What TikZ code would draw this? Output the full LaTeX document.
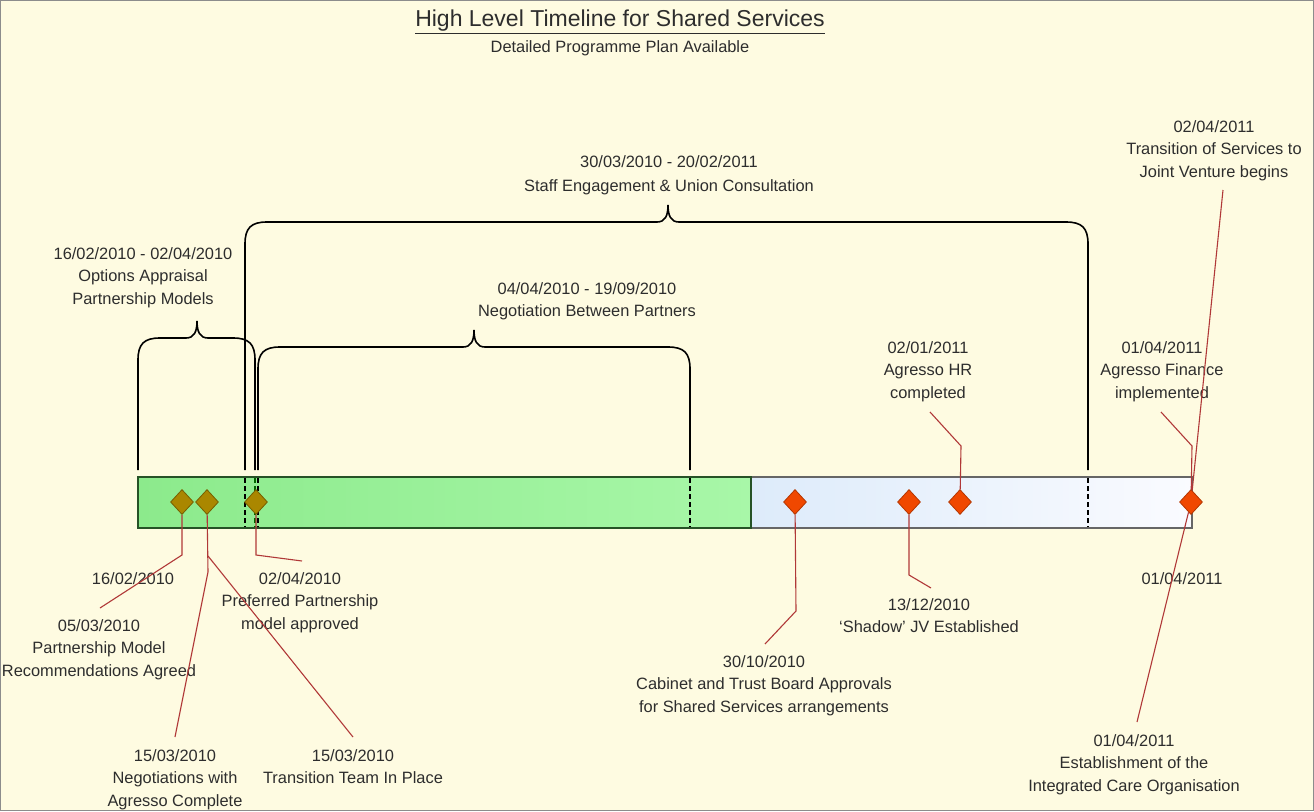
\documentclass[tikz,border=0pt]{standalone}
\usepackage{fontspec}
\setmainfont{Liberation Sans}
\usetikzlibrary{shapes.geometric}
\definecolor{paper}{RGB}{254,251,225}
\definecolor{ink}{RGB}{45,45,45}
\definecolor{leader}{RGB}{176,56,56}
\definecolor{olivemark}{RGB}{170,135,0}
\definecolor{redmark}{RGB}{240,72,0}
\definecolor{greenA}{RGB}{140,234,140}
\definecolor{greenB}{RGB}{168,247,168}
\definecolor{blueA}{RGB}{221,235,250}
\definecolor{blueB}{RGB}{250,251,255}
% curly bracket: left x, right x, tip x, top y, bottom y
\newcommand{\spanbrace}[5]{%
  \draw[spanline] (#1,#5) -- (#1,#4+22) .. controls (#1,#4+6) and (#1+6,#4) .. (#1+22,#4)
    -- (#3-11,#4) .. controls (#3-3,#4) and (#3,#4-6) .. (#3,#4-17)
    .. controls (#3,#4-6) and (#3+3,#4) .. (#3+11,#4)
    -- (#2-22,#4) .. controls (#2-6,#4) and (#2,#4+6) .. (#2,#4+22) -- (#2,#5);}
\tikzset{
  lbl/.style={font=\fontsize{16.4}{22.5}\selectfont, text=ink, align=center, anchor=north, inner sep=0pt},
  leadline/.style={draw=leader, line width=1.1pt},
  milestone/.style={diamond, inner sep=0pt, minimum width=23pt, minimum height=25pt, line width=0.8pt},
  olivestone/.style={milestone, fill=olivemark, draw=olivemark!70!black},
  redstone/.style={milestone, fill=redmark, draw=redmark!75!black},
  spanline/.style={line width=1.6pt, black},
  cutline/.style={dash pattern=on 5pt off 3pt, line width=1.2pt},
}
\begin{document}
\begin{tikzpicture}[x=1pt,y=-1pt]
  \useasboundingbox (0,0) rectangle (1314,811);
  \fill[paper] (0,0) rectangle (1314,811);
  \draw[black!45, line width=1pt] (0.5,0.5) rectangle (1313.5,810.5);
  % titles
  \node[lbl, font=\fontsize{23}{28}\selectfont] (title) at (620,10) {\underline{High Level Timeline for Shared Services}};
  \node[lbl] (subtitle) at (620,40) {Detailed Programme Plan Available};
  % the bar
  \shade[left color=greenA, right color=greenB] (138,477) rectangle (751,528);
  \shade[left color=blueA, right color=blueB] (751,477) rectangle (1192,528);
  \draw[black!60, line width=1.5pt] (751,477) rectangle (1192,528);
  \draw[green!20!black!85, line width=1.5pt] (138,477) rectangle (751,528);
  \foreach \x in {245,258,690,1088}{\draw[cutline] (\x,478)--(\x,527);}
  \draw[cutline, green!40!black] (255,478)--(255,527);
  % spans
  \spanbrace{138}{255}{197}{338}{470}
  \spanbrace{245}{1088}{668}{222}{470}
  \spanbrace{258}{690}{474}{347}{470}
  \node[lbl] (opt) at (143,247) {16/02/2010 - 02/04/2010\\Options Appraisal\\Partnership Models};
  \node[lbl] (staff) at (669,155) {30/03/2010 - 20/02/2011\\[1.5pt]Staff Engagement \& Union Consultation};
  \node[lbl] (neg) at (587,282) {04/04/2010 - 19/09/2010\\Negotiation Between Partners};
  % milestones
  \node[olivestone] (d1) at (182,502) {};
  \node[olivestone] (d2) at (207,502) {};
  \node[olivestone] (d3) at (256,502) {};
  \node[redstone] (d4) at (795,502) {};
  \node[redstone] (d5) at (909,502) {};
  \node[redstone] (d6) at (960,502) {};
  \node[redstone] (d7) at (1191,502) {};
  % labels
  \node[lbl] (l1) at (133,572) {16/02/2010};
  \node[lbl] (l2) at (99,619) {05/03/2010\\Partnership Model\\Recommendations Agreed};
  \node[lbl] (l3) at (300,572) {02/04/2010\\Preferred Partnership\\model approved};
  \node[lbl] (l4) at (175,749) {15/03/2010\\Negotiations with\\Agresso Complete};
  \node[lbl] (l5) at (353,749) {15/03/2010\\Transition Team In Place};
  \node[lbl] (l6) at (764,655) {30/10/2010\\Cabinet and Trust Board Approvals\\for Shared Services arrangements};
  \node[lbl] (l7) at (929,598) {13/12/2010\\`Shadow' JV Established};
  \node[lbl] (l8) at (928,341) {02/01/2011\\Agresso HR\\completed};
  \node[lbl] (l9) at (1162,341) {01/04/2011\\Agresso Finance\\implemented};
  \node[lbl] (l10) at (1214,120) {02/04/2011\\Transition of Services to\\Joint Venture begins};
  \node[lbl] (l11) at (1182,572) {01/04/2011};
  \node[lbl] (l12) at (1134,734) {01/04/2011\\Establishment of the\\Integrated Care Organisation};
  % leader lines
  \coordinate (b1) at (182,555); \coordinate (e1) at (100,608);
  \coordinate (b2) at (208,572); \coordinate (e2) at (175,737);
  \coordinate (b2x) at (208,556); \coordinate (e2x) at (353,737);
  \coordinate (b3) at (256,555); \coordinate (e3) at (302,561);
  \coordinate (b4) at (796,611); \coordinate (e4) at (765,644);
  \coordinate (b5) at (909,575); \coordinate (e5) at (931,588);
  \coordinate (b6) at (961,446); \coordinate (e6) at (930,412);
  \coordinate (b7) at (1192,446); \coordinate (e7) at (1161,412);
  \coordinate (e7x) at (1223,190); \coordinate (e7y) at (1137,722);
  \draw[leadline] (d1) -- (b1) -- (e1);
  \draw[leadline] (d2) -- (b2) -- (e2);
  \draw[leadline] (b2x) -- (e2x);
  \draw[leadline] (d3) -- (b3) -- (e3);
  \draw[leadline] (d4) -- (b4) -- (e4);
  \draw[leadline] (d5) -- (b5) -- (e5);
  \draw[leadline] (d6) -- (b6) -- (e6);
  \draw[leadline] (d7) -- (b7) -- (e7);
  \draw[leadline] (d7) -- (e7x);
  \draw[leadline] (d7) -- (e7y);
\end{tikzpicture}
\end{document}
